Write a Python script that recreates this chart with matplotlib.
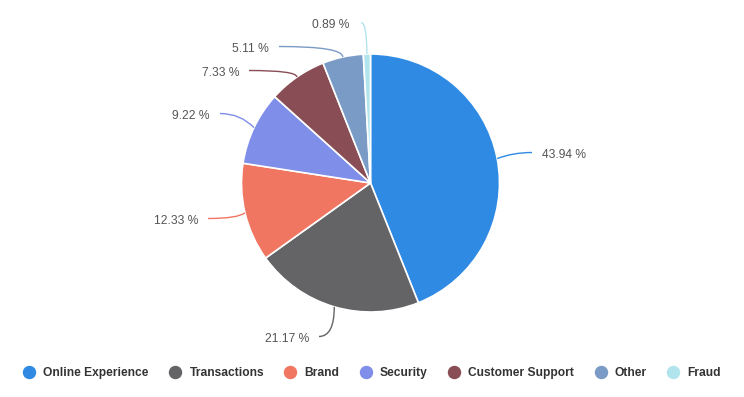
import matplotlib
matplotlib.use("Agg")
import matplotlib.pyplot as plt
import numpy as np
from matplotlib.path import Path
from matplotlib.patches import PathPatch
from matplotlib.lines import Line2D

# ---- data ----
categories = ["Online Experience", "Transactions", "Brand", "Security",
              "Customer Support", "Other", "Fraud"]
values = [43.94, 21.17, 12.33, 9.22, 7.33, 5.11, 0.89]
colors = ["#2f8ae4", "#646366", "#f07662", "#7f8ee9", "#894d56", "#7a9bc5", "#b1e4ec"]

# ---- layout / style (pixel units, y measured from top) ----
W, H = 744, 397
cx, cy_top, R = 370.5, 183.0, 129.0
# label text anchor (x, y from top) and horizontal alignment, connector curvature
label_pos = [(542, 155, "left", 0.55),
             (309, 339, "right", 1.0),
             (198, 221, "right", 0.8),
             (210, 116, "right", 0.6),
             (239, 73, "right", 1.0),
             (269, 49, "right", 1.0),
             (349, 25, "right", 1.0)]

plt.rcParams["font.family"] = ["Liberation Sans", "DejaVu Sans"]
fig = plt.figure(figsize=(W / 100, H / 100), dpi=100)
ax = fig.add_axes([0, 0, 1, 1])
cy = H - cy_top

wedges, _ = ax.pie(values, colors=colors, startangle=90, counterclock=False,
                   center=(cx, cy), radius=R,
                   wedgeprops=dict(edgecolor="white", linewidth=1.2))
ax.set_xlim(0, W)
ax.set_ylim(0, H)
ax.set_aspect("equal", adjustable="box")
ax.axis("off")

px = 72 / 100  # points per pixel
for w, v, c, (lx, ly, ha, k) in zip(wedges, values, colors, label_pos):
    ang = np.deg2rad((w.theta1 + w.theta2) / 2)
    P = np.array([cx + R * np.cos(ang), cy + R * np.sin(ang)])
    gap = 10 if ha == "right" else -10
    if c == colors[-1]:
        gap = 12
    E = np.array([lx + gap, H - ly + 2.5])
    ctrl = np.array([E[0] + k * (P[0] - E[0]), E[1]])
    path = Path([E, ctrl, P], [Path.MOVETO, Path.CURVE3, Path.CURVE3])
    ax.add_patch(PathPatch(path, facecolor="none", edgecolor=c, lw=1.0))
    ax.text(lx, H - ly, f"{v:.2f} %", ha=ha, va="center",
            fontsize=12 * px, color="#555555")

handles = [Line2D([0], [0], marker="o", linestyle="none", markersize=12 * px,
                  markerfacecolor=c, markeredgecolor=c) for c in colors]
leg = fig.legend(handles, categories, loc="center", ncol=7,
                 bbox_to_anchor=(0.501, 1 - 373 / H), frameon=False,
                 handlelength=0.8, handletextpad=0.78, columnspacing=1.8,
                 borderpad=0, prop=dict(size=12 * px, weight="bold"))
for t in leg.get_texts():
    t.set_color("#333333")

fig.savefig("out.png", dpi=100, facecolor="white")
